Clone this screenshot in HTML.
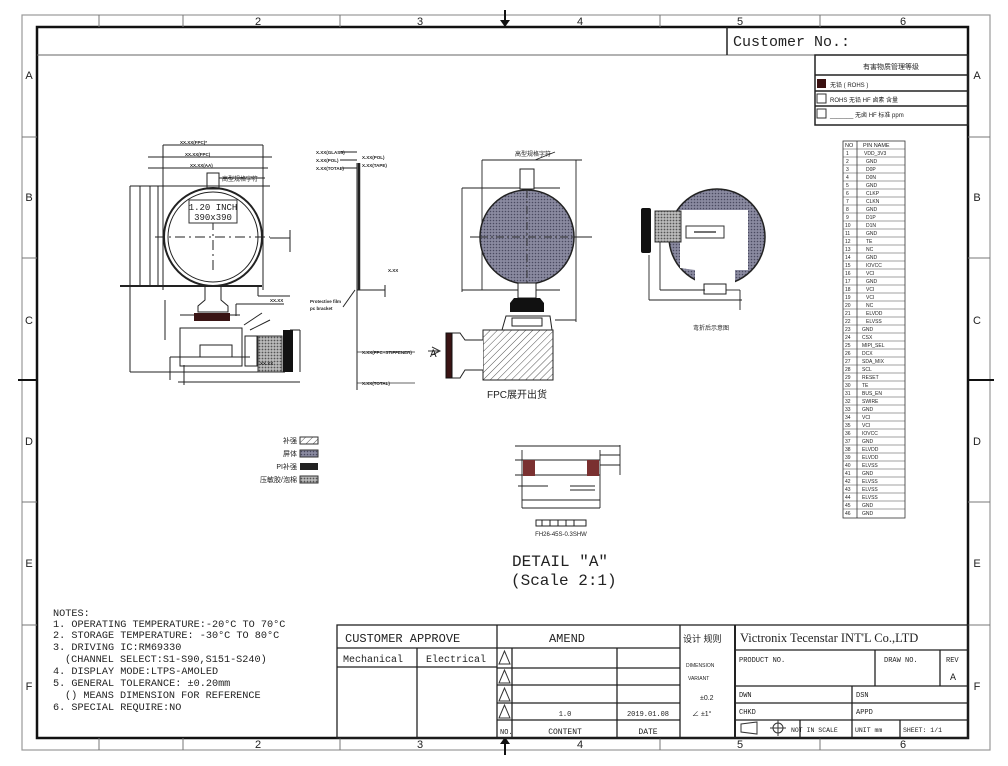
<!DOCTYPE html>
<html><head><meta charset="utf-8"><style>
html,body{margin:0;padding:0;background:#fff}
svg{display:block}
text{font-family:"Liberation Sans","Noto Sans CJK SC",sans-serif;fill:#222}
text.m,.m text{font-family:"Liberation Mono","Noto Sans CJK SC",monospace}
</style></head><body>
<svg width="1008" height="766" viewBox="0 0 1008 766" xmlns="http://www.w3.org/2000/svg">
<defs>
<pattern id="dots" width="3" height="3" patternUnits="userSpaceOnUse"><rect width="3" height="3" fill="#8a8aa0"/><circle cx="1.5" cy="1.5" r="0.8" fill="#4a4a60"/></pattern>
<pattern id="dots2" width="3" height="3" patternUnits="userSpaceOnUse"><rect width="3" height="3" fill="#bbb"/><circle cx="1.5" cy="1.5" r="0.9" fill="#555"/></pattern>
<pattern id="hatch" width="5" height="5" patternUnits="userSpaceOnUse" patternTransform="rotate(45)"><rect width="5" height="5" fill="#fff"/><line x1="0" y1="0" x2="0" y2="5" stroke="#555" stroke-width="1"/></pattern>
</defs>
<rect width="1008" height="766" fill="#fff"/>
<rect x="22" y="15" width="968" height="735" fill="none" stroke="#999" stroke-width="1.2"/>
<rect x="37" y="27" width="931" height="711" fill="none" stroke="#111" stroke-width="2.5"/>
<g stroke="#777" stroke-width="1">
<line x1="99" y1="15" x2="99" y2="27"/><line x1="183" y1="15" x2="183" y2="27"/><line x1="340" y1="15" x2="340" y2="27"/><line x1="660" y1="15" x2="660" y2="27"/><line x1="820" y1="15" x2="820" y2="27"/>
<line x1="99" y1="738" x2="99" y2="750"/><line x1="183" y1="738" x2="183" y2="750"/><line x1="340" y1="738" x2="340" y2="750"/><line x1="660" y1="738" x2="660" y2="750"/><line x1="820" y1="738" x2="820" y2="750"/>
<line x1="22" y1="137" x2="37" y2="137"/><line x1="22" y1="258" x2="37" y2="258"/><line x1="22" y1="502" x2="37" y2="502"/><line x1="22" y1="625" x2="37" y2="625"/>
<line x1="968" y1="137" x2="990" y2="137"/><line x1="968" y1="258" x2="990" y2="258"/><line x1="968" y1="502" x2="990" y2="502"/><line x1="968" y1="625" x2="990" y2="625"/>
</g>
<g stroke="#111" stroke-width="2"><line x1="505" y1="10" x2="505" y2="27"/><line x1="505" y1="738" x2="505" y2="755"/><line x1="18" y1="380" x2="37" y2="380"/><line x1="968" y1="380" x2="994" y2="380"/></g>
<polygon points="500,20 510,20 505,27" fill="#111"/><polygon points="500,744 510,744 505,737" fill="#111"/>
<g font-size="11" text-anchor="middle">
<text x="258" y="25">2</text><text x="420" y="25">3</text><text x="580" y="25">4</text><text x="740" y="25">5</text><text x="903" y="25">6</text>
<text x="258" y="748">2</text><text x="420" y="748">3</text><text x="580" y="748">4</text><text x="740" y="748">5</text><text x="903" y="748">6</text>
<text x="29" y="79">A</text><text x="29" y="201">B</text><text x="29" y="324">C</text><text x="29" y="445">D</text><text x="29" y="567">E</text><text x="29" y="690">F</text>
<text x="977" y="79">A</text><text x="977" y="201">B</text><text x="977" y="324">C</text><text x="977" y="445">D</text><text x="977" y="567">E</text><text x="977" y="690">F</text>
</g>
<line x1="37" y1="55" x2="968" y2="55" stroke="#666" stroke-width="1"/>
<line x1="727" y1="27" x2="727" y2="55" stroke="#222" stroke-width="1.5"/>
<text x="733" y="46" class="m" font-size="15" fill="#333">Customer No.:</text>
<g stroke="#222" stroke-width="1.5" fill="none">
<rect x="815" y="55" width="153" height="70"/><line x1="815" y1="75" x2="968" y2="75"/><line x1="815" y1="91" x2="968" y2="91"/><line x1="815" y1="106" x2="968" y2="106"/>
</g>
<text x="891" y="69" font-size="7" text-anchor="middle">有害物质管理等级</text>
<rect x="817" y="79" width="9" height="9" fill="#3a1010"/><rect x="817" y="94" width="9" height="9" fill="#fff" stroke="#333"/><rect x="817" y="109" width="9" height="9" fill="#fff" stroke="#333"/>
<text x="830" y="87" font-size="6" fill="#555">无铅 ( ROHS )</text><text x="830" y="102" font-size="6" fill="#555">ROHS 无铅 HF 卤素 含量</text><text x="830" y="117" font-size="6" fill="#555">_______ 无卤 HF 标准    ppm</text>
<g stroke="#333" stroke-width="0.8" fill="none">
<rect x="843" y="141" width="62" height="377"/><line x1="857" y1="141" x2="857" y2="518"/>
</g>
<g font-size="5.5" fill="#333">
<text x="845" y="147">NO</text><text x="863" y="147">PIN NAME</text>
</g>
<g stroke="#444" stroke-width="0.6">
<line x1="843" y1="149" x2="905" y2="149"/><line x1="843" y1="157" x2="905" y2="157"/><line x1="843" y1="165" x2="905" y2="165"/><line x1="843" y1="173" x2="905" y2="173"/><line x1="843" y1="181" x2="905" y2="181"/><line x1="843" y1="189" x2="905" y2="189"/><line x1="843" y1="197" x2="905" y2="197"/><line x1="843" y1="205" x2="905" y2="205"/><line x1="843" y1="213" x2="905" y2="213"/><line x1="843" y1="221" x2="905" y2="221"/><line x1="843" y1="229" x2="905" y2="229"/><line x1="843" y1="237" x2="905" y2="237"/><line x1="843" y1="245" x2="905" y2="245"/><line x1="843" y1="253" x2="905" y2="253"/><line x1="843" y1="261" x2="905" y2="261"/><line x1="843" y1="269" x2="905" y2="269"/><line x1="843" y1="277" x2="905" y2="277"/><line x1="843" y1="285" x2="905" y2="285"/><line x1="843" y1="293" x2="905" y2="293"/><line x1="843" y1="301" x2="905" y2="301"/><line x1="843" y1="309" x2="905" y2="309"/><line x1="843" y1="317" x2="905" y2="317"/><line x1="843" y1="325" x2="905" y2="325"/><line x1="843" y1="333" x2="905" y2="333"/><line x1="843" y1="341" x2="905" y2="341"/><line x1="843" y1="349" x2="905" y2="349"/><line x1="843" y1="357" x2="905" y2="357"/><line x1="843" y1="365" x2="905" y2="365"/><line x1="843" y1="373" x2="905" y2="373"/><line x1="843" y1="381" x2="905" y2="381"/><line x1="843" y1="389" x2="905" y2="389"/><line x1="843" y1="397" x2="905" y2="397"/><line x1="843" y1="405" x2="905" y2="405"/><line x1="843" y1="413" x2="905" y2="413"/><line x1="843" y1="421" x2="905" y2="421"/><line x1="843" y1="429" x2="905" y2="429"/><line x1="843" y1="437" x2="905" y2="437"/><line x1="843" y1="445" x2="905" y2="445"/><line x1="843" y1="453" x2="905" y2="453"/><line x1="843" y1="461" x2="905" y2="461"/><line x1="843" y1="469" x2="905" y2="469"/><line x1="843" y1="477" x2="905" y2="477"/><line x1="843" y1="485" x2="905" y2="485"/><line x1="843" y1="493" x2="905" y2="493"/><line x1="843" y1="501" x2="905" y2="501"/><line x1="843" y1="509" x2="905" y2="509"/>
</g>
<g font-size="5" fill="#333">
<text x="846" y="155">1</text><text x="846" y="163">2</text><text x="846" y="171">3</text><text x="846" y="179">4</text><text x="846" y="187">5</text><text x="846" y="195">6</text><text x="846" y="203">7</text><text x="846" y="211">8</text><text x="846" y="219">9</text><text x="845" y="227">10</text><text x="845" y="235">11</text><text x="845" y="243">12</text><text x="845" y="251">13</text><text x="845" y="259">14</text><text x="845" y="267">15</text><text x="845" y="275">16</text><text x="845" y="283">17</text><text x="845" y="291">18</text><text x="845" y="299">19</text><text x="845" y="307">20</text><text x="845" y="315">21</text><text x="845" y="323">22</text><text x="845" y="331">23</text><text x="845" y="339">24</text><text x="845" y="347">25</text><text x="845" y="355">26</text><text x="845" y="363">27</text><text x="845" y="371">28</text><text x="845" y="379">29</text><text x="845" y="387">30</text><text x="845" y="395">31</text><text x="845" y="403">32</text><text x="845" y="411">33</text><text x="845" y="419">34</text><text x="845" y="427">35</text><text x="845" y="435">36</text><text x="845" y="443">37</text><text x="845" y="451">38</text><text x="845" y="459">39</text><text x="845" y="467">40</text><text x="845" y="475">41</text><text x="845" y="483">42</text><text x="845" y="491">43</text><text x="845" y="499">44</text><text x="845" y="507">45</text><text x="845" y="515">46</text>
<text x="864" y="155">VDD_3V3</text><text x="866" y="163">GND</text><text x="866" y="171">D0P</text><text x="866" y="179">D0N</text><text x="866" y="187">GND</text><text x="866" y="195">CLKP</text><text x="866" y="203">CLKN</text><text x="866" y="211">GND</text><text x="866" y="219">D1P</text><text x="866" y="227">D1N</text><text x="866" y="235">GND</text><text x="866" y="243">TE</text><text x="866" y="251">NC</text><text x="866" y="259">GND</text><text x="866" y="267">IOVCC</text><text x="866" y="275">VCI</text><text x="866" y="283">GND</text><text x="866" y="291">VCI</text><text x="866" y="299">VCI</text><text x="866" y="307">NC</text><text x="866" y="315">ELVDD</text><text x="866" y="323">ELVSS</text><text x="862" y="331">GND</text><text x="862" y="339">CSX</text><text x="862" y="347">MIPI_SEL</text><text x="862" y="355">DCX</text><text x="862" y="363">SDA_MIX</text><text x="862" y="371">SCL</text><text x="862" y="379">RESET</text><text x="862" y="387">TE</text><text x="862" y="395">BUS_EN</text><text x="862" y="403">SWIRE</text><text x="862" y="411">GND</text><text x="862" y="419">VCI</text><text x="862" y="427">VCI</text><text x="862" y="435">IOVCC</text><text x="862" y="443">GND</text><text x="862" y="451">ELVDD</text><text x="862" y="459">ELVDD</text><text x="862" y="467">ELVSS</text><text x="862" y="475">GND</text><text x="862" y="483">ELVSS</text><text x="862" y="491">ELVSS</text><text x="862" y="499">ELVSS</text><text x="862" y="507">GND</text><text x="862" y="515">GND</text>
</g>

<g stroke="#222" stroke-width="1" fill="none">
<line x1="163" y1="145" x2="263" y2="145"/><line x1="163" y1="145" x2="163" y2="290"/><line x1="263" y1="145" x2="263" y2="290"/>
<line x1="148" y1="157" x2="272" y2="157"/><line x1="148" y1="168" x2="268" y2="168"/>
<line x1="130" y1="186" x2="270" y2="186"/><line x1="130" y1="186" x2="130" y2="372"/>
<line x1="120" y1="286" x2="262" y2="286" stroke-width="2"/>
<line x1="140" y1="186" x2="140" y2="286"/><line x1="150" y1="186" x2="150" y2="286"/><line x1="158" y1="186" x2="158" y2="286"/>
<circle cx="213" cy="237" r="49" stroke-width="2"/><circle cx="213" cy="237" r="45"/>
<line x1="155" y1="237" x2="270" y2="237" stroke-dasharray="10,4,2,4"/><line x1="213" y1="200" x2="213" y2="270" stroke-dasharray="10,4,2,4"/>
<rect x="207" y="173" width="12" height="16"/>
<line x1="219" y1="178" x2="265" y2="178"/>
<line x1="270" y1="238" x2="290" y2="238"/><line x1="290" y1="238" x2="290" y2="252"/><line x1="290" y1="230" x2="290" y2="238"/>
<path d="M205 286 L205 300 L198 306 L198 312 L228 312 L228 306 L221 300 L221 286"/>
<line x1="258" y1="286" x2="258" y2="296"/><line x1="258" y1="296" x2="290" y2="296"/>
<line x1="236" y1="304" x2="284" y2="304"/><line x1="236" y1="304" x2="236" y2="316"/>
<rect x="180" y="328" width="62" height="38"/><rect x="200" y="345" width="32" height="12"/>
<line x1="170" y1="357" x2="250" y2="357"/><line x1="170" y1="357" x2="170" y2="380"/>
<line x1="130" y1="372" x2="285" y2="372"/>
<line x1="184" y1="365" x2="184" y2="385"/><line x1="178" y1="382" x2="250" y2="382"/>
<line x1="250" y1="330" x2="270" y2="320"/><line x1="244" y1="325" x2="262" y2="313"/>
<rect x="245" y="336" width="12" height="30"/>
<line x1="250" y1="382" x2="300" y2="382"/>
<line x1="290" y1="330" x2="300" y2="330"/><line x1="300" y1="330" x2="300" y2="372"/>
<line x1="165" y1="300" x2="165" y2="340"/>
<line x1="180" y1="315" x2="240" y2="315"/>
</g>
<rect x="194" y="313" width="36" height="8" fill="#3a1414"/>
<rect x="258" y="336" width="24" height="36" fill="url(#dots2)" stroke="#333"/>
<rect x="283" y="330" width="10" height="42" fill="#111"/>
<rect x="189" y="200" width="48" height="23" fill="#fff" stroke="#333"/>
<text x="213" y="210" font-size="9" text-anchor="middle" class="m">1.20 INCH</text>
<text x="213" y="220" font-size="9" text-anchor="middle" class="m">390x390</text>
<text x="222" y="181" font-size="6" fill="#444">高型规格字符</text>
<g font-size="4.5" fill="#555" font-weight="bold">
<text x="180" y="144">XX.XX(FPC)*</text><text x="185" y="156">XX.XX(FPC)</text><text x="190" y="167">XX.XX(AA)</text>
<text x="260" y="365">XX.XX</text><text x="270" y="302">XX.XX</text>
</g>
<g stroke="#222" fill="none">
<line x1="357" y1="163" x2="357" y2="390" stroke-width="1"/>
<line x1="359" y1="163" x2="359" y2="290" stroke-width="2.5"/>
<line x1="357" y1="290" x2="385" y2="290"/><line x1="385" y1="285" x2="385" y2="297"/>
<line x1="355" y1="290" x2="343" y2="307"/>
<line x1="340" y1="152" x2="357" y2="152"/><line x1="340" y1="160" x2="357" y2="160"/><line x1="340" y1="168" x2="357" y2="168"/>
</g>
<g font-size="4.5" fill="#444" font-weight="bold">
<text x="316" y="154">X.XX(GLASS)</text><text x="316" y="162">X.XX(POL)</text><text x="316" y="170">X.XX(TOTAL)</text>
<text x="362" y="159">X.XX(POL)</text><text x="362" y="167">X.XX(TAPE)</text>
<text x="388" y="272">X.XX</text><text x="310" y="303">Protective film</text><text x="310" y="310">pc bracket</text>
<text x="362" y="354">X.XX(FPC+STIFFENER)</text><text x="362" y="385">X.XX(TOTAL)</text>
</g>
<line x1="357" y1="352" x2="415" y2="352" stroke="#333" stroke-width="0.7"/>
<line x1="357" y1="383" x2="415" y2="383" stroke="#333" stroke-width="0.7"/>

<g font-size="7" fill="#444" text-anchor="end">
<text x="297" y="443">补强</text><text x="297" y="456">屏体</text><text x="297" y="469">PI补强</text><text x="297" y="482">压敏胶/泡棉</text>
</g>
<rect x="300" y="437" width="18" height="7" fill="url(#hatch)" stroke="#333"/>
<rect x="300" y="450" width="18" height="7" fill="url(#dots)" stroke="#333"/>
<rect x="300" y="463" width="18" height="7" fill="#222"/>
<rect x="300" y="476" width="18" height="7" fill="url(#dots2)" stroke="#333"/>

<g stroke="#222" fill="none" stroke-width="0.9">
<line x1="482" y1="160" x2="582" y2="160"/><line x1="482" y1="160" x2="482" y2="290"/><line x1="576" y1="160" x2="576" y2="322"/>
<line x1="462" y1="188" x2="560" y2="188"/><line x1="462" y1="188" x2="462" y2="292"/>
<line x1="462" y1="290" x2="560" y2="290"/>
<line x1="470" y1="237" x2="592" y2="237"/>
<line x1="535" y1="160" x2="555" y2="152"/>
<line x1="555" y1="320" x2="576" y2="320"/>
</g>
<rect x="520" y="169" width="14" height="20" fill="#fff" stroke="#222"/>
<circle cx="527" cy="237" r="47" fill="url(#dots)" stroke="#222" stroke-width="1.5"/>
<line x1="480" y1="237" x2="575" y2="237" stroke="#333" stroke-dasharray="8,3,2,3"/><line x1="527" y1="190" x2="527" y2="290" stroke="#333" stroke-dasharray="8,3,2,3"/>
<rect x="518" y="283" width="18" height="15" fill="#fff" stroke="#222"/>
<path d="M514 298 L540 298 L544 303 L544 312 L510 312 L510 303 Z" fill="#111"/>
<path d="M502 330 L506 316 L550 316 L552 330" fill="#fff" stroke="#222"/>
<rect x="512" y="318" width="30" height="8" fill="#fff" stroke="#222"/>
<rect x="483" y="330" width="70" height="50" fill="url(#hatch)" stroke="#222"/>
<path d="M483 340 L465 340 L460 333 L452 333 L452 378 L460 378 L465 370 L483 370" fill="#fff" stroke="#222"/>
<rect x="446" y="333" width="6" height="45" fill="#3a1414" stroke="#111"/>
<line x1="428" y1="351" x2="440" y2="351" stroke="#333"/><path d="M432 347 L440 351 L432 355" fill="none" stroke="#333"/>
<text x="430" y="357" font-size="11" class="m">A</text>
<text x="515" y="156" font-size="6" fill="#444">高型规格字符</text>
<text x="487" y="398" font-size="10">FPC展开出货</text>
<circle cx="717" cy="237" r="48" fill="url(#dots)" stroke="#222" stroke-width="1.5"/>
<path d="M680 210 L748 210 L748 270 L735 270 L735 285 L725 285 L725 290 L705 290 L705 285 L695 285 L695 270 L680 268 Z" fill="#fff"/>
<rect x="686" y="226" width="38" height="12" fill="#fff" stroke="#333"/>
<line x1="694" y1="232" x2="716" y2="232" stroke="#444" stroke-width="1.5"/>
<rect x="655" y="211" width="26" height="31" fill="url(#dots2)" stroke="#333"/>
<rect x="641" y="208" width="10" height="45" fill="#111" rx="2"/>
<rect x="704" y="284" width="22" height="10" fill="#fff" stroke="#222"/>
<g stroke="#222" fill="none" stroke-width="0.9">
<line x1="649" y1="255" x2="649" y2="300"/><line x1="649" y1="300" x2="742" y2="300"/><line x1="740" y1="290" x2="740" y2="310"/>
<line x1="660" y1="242" x2="660" y2="290"/><line x1="660" y1="290" x2="705" y2="290"/><line x1="726" y1="290" x2="740" y2="290"/>
</g>
<text x="693" y="330" font-size="6" fill="#444">弯折后示意图</text>

<g stroke="#222" fill="none" stroke-width="0.9">
<line x1="515" y1="446" x2="600" y2="446"/><line x1="515" y1="460" x2="600" y2="460"/><line x1="515" y1="475" x2="600" y2="475"/>
<line x1="522" y1="500" x2="600" y2="500"/><line x1="522" y1="508" x2="600" y2="508"/>
<line x1="522" y1="450" x2="522" y2="508"/><line x1="600" y1="450" x2="600" y2="508"/>
<line x1="518" y1="486" x2="548" y2="486"/><line x1="570" y1="486" x2="595" y2="486"/><line x1="570" y1="490" x2="595" y2="490"/>
<line x1="600" y1="446" x2="620" y2="446"/><line x1="600" y1="455" x2="620" y2="455"/><line x1="600" y1="465" x2="620" y2="465"/>
<line x1="620" y1="445" x2="620" y2="475"/>
</g>
<rect x="523" y="460" width="12" height="16" fill="#7a3030"/><rect x="587" y="460" width="12" height="16" fill="#7a3030"/>
<rect x="536" y="520" width="50" height="6" fill="#fff" stroke="#222"/>
<g stroke="#222"><line x1="542" y1="520" x2="542" y2="526"/><line x1="550" y1="520" x2="550" y2="526"/><line x1="558" y1="520" x2="558" y2="526"/><line x1="566" y1="520" x2="566" y2="526"/><line x1="574" y1="520" x2="574" y2="526"/></g>
<text x="561" y="536" font-size="6" text-anchor="middle" fill="#333">FH26-45S-0.3SHW</text>
<text x="512" y="566" font-size="16" class="m" fill="#444">DETAIL "A"</text>
<text x="511" y="585" font-size="16" class="m" fill="#444">(Scale 2:1)</text>

<g font-size="10.2" class="m" fill="#222">
<text x="53" y="616">NOTES:</text>
<text x="53" y="627">1. OPERATING TEMPERATURE:-20°C TO 70°C</text>
<text x="53" y="638">2. STORAGE TEMPERATURE: -30°C TO 80°C</text>
<text x="53" y="650">3. DRIVING IC:RM69330</text>
<text x="65" y="662">(CHANNEL SELECT:S1-S90,S151-S240)</text>
<text x="53" y="674">4. DISPLAY MODE:LTPS-AMOLED</text>
<text x="53" y="686">5. GENERAL TOLERANCE: ±0.20mm</text>
<text x="65" y="698">() MEANS DIMENSION FOR REFERENCE</text>
<text x="53" y="710">6. SPECIAL REQUIRE:NO</text>
</g>

<g stroke="#222" stroke-width="1.3" fill="none">
<rect x="337" y="625" width="631" height="113"/>
<line x1="497" y1="625" x2="497" y2="738"/><line x1="680" y1="625" x2="680" y2="738"/>
<line x1="735" y1="625" x2="735" y2="738" stroke-width="2"/>
<line x1="337" y1="648" x2="680" y2="648"/><line x1="337" y1="667" x2="497" y2="667"/>
<line x1="417" y1="648" x2="417" y2="738"/>
<line x1="497" y1="668" x2="680" y2="668"/><line x1="497" y1="685" x2="680" y2="685"/><line x1="497" y1="703" x2="680" y2="703"/><line x1="497" y1="720" x2="680" y2="720"/>
<line x1="512" y1="648" x2="512" y2="738"/><line x1="617" y1="648" x2="617" y2="738"/>
<line x1="735" y1="650" x2="968" y2="650"/><line x1="735" y1="686" x2="968" y2="686"/><line x1="735" y1="703" x2="968" y2="703"/><line x1="735" y1="720" x2="968" y2="720"/>
<line x1="875" y1="650" x2="875" y2="686"/><line x1="940" y1="650" x2="940" y2="686"/>
<line x1="852" y1="686" x2="852" y2="738"/><line x1="800" y1="720" x2="800" y2="738"/><line x1="900" y1="720" x2="900" y2="738"/>
</g>
<g fill="none" stroke="#333"><path d="M504.5 651 L499 664 L510 664 Z"/><path d="M504.5 670 L499 683 L510 683 Z"/><path d="M504.5 688 L499 701 L510 701 Z"/><path d="M504.5 705 L499 718 L510 718 Z"/></g>
<g class="m" fill="#222">
<text x="345" y="642" font-size="12">CUSTOMER APPROVE</text>
<text x="343" y="662" font-size="10">Mechanical</text><text x="426" y="662" font-size="10">Electrical</text>
<text x="567" y="642" font-size="12" text-anchor="middle">AMEND</text>
<text x="500" y="734" font-size="7">NO.</text><text x="565" y="734" font-size="8" text-anchor="middle">CONTENT</text><text x="648" y="734" font-size="8" text-anchor="middle">DATE</text>
<text x="565" y="716" font-size="7" text-anchor="middle" fill="#888">1.0</text><text x="648" y="716" font-size="7" text-anchor="middle" fill="#888">2019.01.08</text>
<text x="739" y="662" font-size="7">PRODUCT NO.</text><text x="884" y="662" font-size="7">DRAW NO.</text><text x="946" y="662" font-size="7">REV</text>
<text x="953" y="680" font-size="10" fill="#666" text-anchor="middle">A</text>
<text x="739" y="697" font-size="7">DWN</text><text x="856" y="697" font-size="7">DSN</text>
<text x="739" y="714" font-size="7">CHKD</text><text x="856" y="714" font-size="7">APPD</text>
<text x="791" y="732" font-size="6.5">NOT IN SCALE</text><text x="855" y="732" font-size="6.5">UNIT mm</text><text x="903" y="732" font-size="6.5">SHEET: 1/1</text>
</g>
<text x="740" y="642" font-size="12.5" font-family="Liberation Serif, serif" style="font-family:'Liberation Serif',serif">Victronix Tecenstar INT'L Co.,LTD</text>
<text x="683" y="642" font-size="9" fill="#aaa">设计 规则</text>
<text x="686" y="667" font-size="5" fill="#aaa">DIMENSION</text><text x="688" y="680" font-size="5" fill="#aaa">VARIANT</text>
<text x="700" y="700" font-size="7" fill="#888">±0.2</text><text x="692" y="716" font-size="7" fill="#888">∠ ±1°</text>
<g fill="none" stroke="#333"><path d="M741 724 L757 722 L757 734 L741 732 Z"/><circle cx="778" cy="728" r="5"/><line x1="770" y1="728" x2="786" y2="728"/><line x1="778" y1="720" x2="778" y2="736"/></g>
</svg>
</body></html>
